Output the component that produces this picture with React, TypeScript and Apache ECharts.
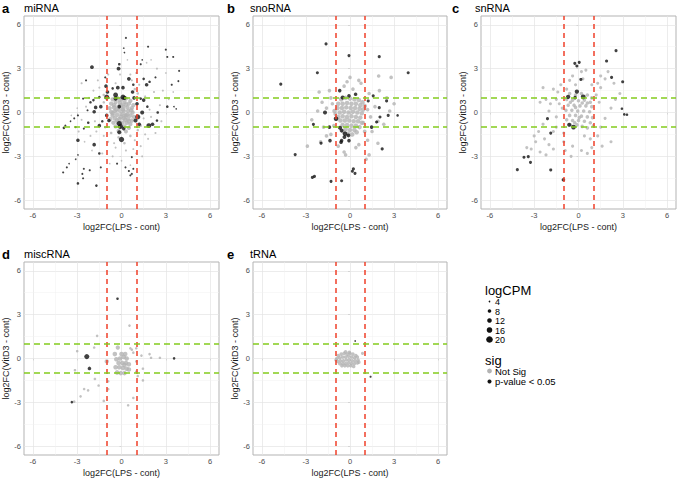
import React, { useEffect, useRef } from "react";
import * as echarts from "echarts";

type P = [number, number, number];

const FONT = "'Liberation Sans', Arial, Helvetica, sans-serif";

const panelLetters = ["a", "b", "c", "d", "e"];
const panelNames = ["miRNA", "snoRNA", "snRNA", "miscRNA", "tRNA"];
const tickValues = [-6, -3, 0, 3, 6];
const minorValues = [-4.5, -1.5, 1.5, 4.5];
const cutoffs = [-1, 1];
const legendSizes = [4, 8, 12, 16, 20];
const sigLabels = ["Not Sig", "p-value < 0.05"];
const xTitle = "log2FC(LPS - cont)";
const yTitle = "log2FC(VitD3 - cont)";

// ---------- panel a : miRNA ----------
const aSig: P[] = [
  [0.3, 5.1, 5], [1.8, 4.5, 5], [3.0, 4.3, 5], [3.5, 3.8, 5], [3.1, 3.8, 5], [0.15, 4.4, 4], [0.2, 4.1, 4],
  [-2.0, 3.1, 9], [-0.2, 3.0, 9], [-0.15, 3.3, 6], [1.3, 3.3, 5], [1.4, 3.6, 4], [3.9, 2.85, 5], [2.3, 2.4, 5],
  [1.5, 2.3, 6], [0.5, 2.3, 9], [-2.4, 2.2, 5], [-1.1, 2.4, 5], [1.9, 2.1, 6], [0.8, 1.9, 6], [1.7, 1.9, 8],
  [3.4, 1.9, 5], [3.85, 2.15, 5], [-1.05, 1.8, 8], [-0.25, 1.7, 9], [0.1, 1.7, 8], [0.75, 1.4, 8], [-0.95, 1.4, 8],
  [-0.6, 1.65, 6], [-1.0, 1.05, 14], [-0.4, 1.2, 13], [0.1, 1.05, 14], [0.2, 1.0, 10], [-0.4, 0.95, 10],
  [-1.9, 0.85, 6], [-1.5, 1.05, 6], [-2.6, 0.95, 5], [-2.1, 0.7, 6], [-1.4, 0.4, 8], [-1.75, 0.35, 8],
  [-2.3, 0.15, 5], [-1.85, 0.05, 8], [-2.95, -0.2, 5], [-3.2, -0.4, 5], [-3.45, -0.6, 4], [-3.8, -0.9, 5],
  [-3.9, -1.05, 6], [-3.1, -1.0, 5], [-2.55, -1.1, 5], [-2.25, -0.7, 6], [-1.5, -0.9, 8], [-1.0, -0.2, 8],
  [-0.85, -0.55, 8], [-1.3, -0.6, 6], [-0.15, 0.4, 8], [-0.15, -0.75, 14], [-0.07, -0.95, 14], [-0.15, -1.35, 10],
  [0.0, -1.85, 15], [0.15, -1.1, 8], [1.1, -0.3, 14], [0.95, -0.55, 10], [1.2, -0.8, 8], [1.85, -0.9, 13],
  [2.1, -0.8, 8], [1.4, 0.0, 10], [1.75, 0.4, 6], [1.5, 0.85, 8], [1.3, 0.95, 6], [0.85, 1.0, 8], [1.05, 0.6, 8],
  [2.45, 0.0, 6], [3.1, 0.4, 6], [3.55, 0.4, 4], [3.7, 0.25, 4], [2.4, -0.55, 6], [-2.95, -1.9, 8],
  [-1.85, -2.2, 8], [-1.5, -2.8, 6], [-2.95, -2.9, 4], [-3.1, -3.2, 4], [-3.55, -3.5, 4], [-3.7, -3.75, 5],
  [-3.95, -4.1, 5], [-2.55, -3.85, 5], [-2.65, -4.2, 5], [-2.6, -4.5, 5], [-2.95, -4.85, 6], [-2.15, -3.95, 5],
  [-1.7, -5.0, 6], [-1.4, -3.75, 5], [0.27, -3.75, 5], [0.5, -4.0, 5], [0.7, -4.2, 5], [0.8, -3.85, 5],
  [0.6, -4.3, 5], [-0.3, -3.5, 5], [0.7, -3.05, 5],
];
const aNot: P[] = [
  // scattered
  [-2.7, 2.0, 5], [-2.2, 1.0, 5], [-1.6, 2.2, 5], [-0.9, 2.6, 5], [0.6, 2.6, 5], [1.0, 2.7, 5], [2.4, 3.0, 5],
  [1.7, 3.4, 4], [2.2, 1.4, 5], [2.8, 1.5, 5], [3.2, 0.9, 4], [2.6, 0.5, 5], [1.9, 0.2, 5], [1.5, -0.4, 5],
  [2.3, -1.4, 5], [1.8, -1.8, 5], [1.3, -2.3, 5], [1.0, -2.8, 5], [1.4, -3.0, 5], [0.8, -2.5, 5], [0.3, -2.6, 5],
  [-0.4, -2.4, 5], [-0.6, -3.0, 5], [-0.9, -2.0, 5], [-1.2, -1.6, 5], [-1.7, -1.3, 5], [-2.1, -1.6, 5],
  [-2.5, -2.0, 4], [-2.7, -0.5, 5], [-2.4, 0.4, 5], [-3.0, 0.3, 4], [-1.8, -0.6, 5], [-1.5, 1.7, 5],
  [-1.2, 0.7, 6], [0.9, 1.6, 6], [1.2, 1.9, 5], [1.6, 1.1, 5], [2.0, -0.3, 5], [1.1, -1.2, 6], [0.6, -1.6, 6],
  [0.2, -2.1, 6], [-0.2, -1.7, 6], [-0.7, -1.4, 6], [-0.4, 2.0, 5], [0.4, 3.6, 4], [-0.1, 2.6, 5],
  [0.0, -3.3, 4], [-0.8, -3.5, 4], [0.6, -3.6, 4], [3.5, 1.4, 4], [3.0, 2.7, 4], [2.0, 3.6, 4], [-3.4, -0.2, 4],
  [-2.0, -2.6, 4], [-1.3, -2.8, 5], [1.6, -1.5, 5], [2.7, -0.6, 5], [0.7, 2.2, 5], [-2.9, -1.3, 5], [-1.9, 1.5, 5],
  [-1.2, 1.2, 6], [1.1, 1.3, 6], [-1.1, -1.0, 6], [1.3, -0.9, 6], [0.9, -1.9, 5], [-0.5, -2.1, 5],
  // central clump
  [-0.6, 0.9, 11], [-0.3, 1.0, 11], [0.0, 0.9, 11], [0.3, 0.95, 11], [0.6, 0.8, 11], [-0.7, 0.6, 11],
  [-0.4, 0.7, 11], [-0.1, 0.65, 12], [0.2, 0.7, 12], [0.5, 0.6, 11], [0.8, 0.5, 11], [-0.8, 0.3, 11],
  [-0.5, 0.35, 12], [-0.2, 0.4, 12], [0.1, 0.4, 12], [0.4, 0.35, 12], [0.7, 0.3, 11], [-0.7, 0.05, 11],
  [-0.45, 0.1, 12], [-0.15, 0.15, 12], [0.15, 0.1, 12], [0.45, 0.1, 12], [0.75, 0.0, 11], [-0.6, -0.2, 12],
  [-0.3, -0.15, 12], [0.0, -0.1, 12], [0.3, -0.2, 12], [0.6, -0.2, 12], [0.85, -0.3, 11], [-0.75, -0.45, 11],
  [-0.45, -0.4, 12], [-0.15, -0.45, 12], [0.15, -0.4, 12], [0.45, -0.45, 12], [0.7, -0.55, 11],
  [-0.55, -0.7, 11], [-0.25, -0.7, 12], [0.05, -0.7, 12], [0.35, -0.7, 12], [0.6, -0.8, 11], [-0.4, -0.95, 11],
  [-0.1, -1.0, 11], [0.2, -0.95, 11], [0.5, -1.05, 11], [-0.2, -1.25, 10], [0.3, -1.3, 10], [-0.35, 0.2, 12],
  [0.3, 0.55, 12], [-0.05, -0.3, 12], [0.5, -0.6, 12], [-0.6, -0.05, 12], [0.1, 0.2, 12], [0.25, -0.5, 12],
  [-0.3, -0.55, 12], [0.65, 0.15, 12], [-0.15, 0.85, 11], [0.4, -0.15, 12], [0.0, 0.5, 12], [-0.5, 0.5, 12],
  [0.2, -0.2, 12],
];

// ---------- panel b : snoRNA ----------
const bSig: P[] = [
  [-1.63, 4.69, 7], [-0.07, 3.89, 7], [1.99, 3.82, 7], [3.96, 2.72, 7], [-2.22, 2.72, 7], [-4.71, 1.94, 7],
  [-0.7, 1.5, 8], [0.38, 1.25, 8], [-0.07, 1.14, 8], [-0.5, 1.02, 10], [1.58, 1.14, 7], [1.24, 0.79, 7],
  [2.49, 0.79, 7], [-1.7, 0.0, 10], [-0.95, -0.42, 12], [1.99, 0.33, 7], [2.6, -0.2, 7], [2.04, -0.31, 7],
  [3.24, -0.2, 6], [1.81, -0.65, 7], [1.47, -1.0, 8], [-2.49, -0.81, 7], [-1.4, -1.0, 8], [-0.68, -1.04, 10],
  [-0.57, -1.23, 9], [-0.34, -1.46, 12], [-0.38, -1.68, 9], [-0.11, -1.57, 9], [-0.07, -1.92, 8],
  [-0.57, -1.92, 8], [-0.61, -2.03, 8], [-1.36, -1.92, 8], [-1.97, -2.1, 7], [2.19, -2.49, 7],
  [-3.73, -2.88, 7], [-2.56, -4.44, 7], [-2.42, -4.37, 7], [-1.29, -4.71, 7], [-0.57, -4.67, 7],
  [0.23, -3.86, 7], [0.16, -4.02, 7], [0.34, -4.16, 7],
];
const bNot: P[] = [
  [0.0, 2.4, 8], [0.75, 2.0, 8], [0.6, 2.2, 8], [1.95, 2.5, 8], [2.8, 2.4, 8], [-1.4, 1.5, 8], [-2.1, 1.4, 8],
  [-0.4, 1.8, 8], [0.2, 1.6, 8], [-1.9, 0.7, 8], [-1.6, 0.3, 8], [-2.2, 0.1, 8], [-2.6, -0.5, 8], [-1.2, 0.6, 8],
  [2.0, 1.5, 8], [2.5, 1.0, 8], [1.7, 0.4, 8], [1.2, 0.2, 8], [1.9, -0.6, 8], [2.3, -0.8, 8], [1.4, -0.3, 8],
  [1.5, -1.3, 8], [1.2, -1.9, 8], [1.9, -2.1, 8], [0.6, -2.2, 8], [1.3, -2.9, 8], [1.1, -3.2, 8],
  [-0.4, -2.7, 8], [-0.3, -2.9, 8], [-1.6, -1.6, 8], [-2.0, -2.0, 8], [-2.9, -2.3, 8], [-1.8, -1.0, 8],
  [-1.1, -0.9, 8], [-1.3, -1.5, 8], [0.4, -2.4, 8], [-0.8, -2.3, 8], [2.7, 0.1, 8], [3.0, 0.6, 8],
  [-0.2, 2.1, 8], [1.0, -1.3, 9], [0.9, -0.7, 9], [-1.3, 1.0, 8], [1.3, 1.3, 8], [-1.0, -0.1, 9],
  // central clump
  [-0.6, 0.9, 12], [-0.3, 1.0, 12], [0.0, 0.95, 12], [0.3, 0.9, 12], [0.6, 0.85, 12], [0.85, 0.7, 12],
  [-0.8, 0.6, 12], [-0.5, 0.6, 12], [-0.2, 0.65, 12], [0.1, 0.6, 12], [0.4, 0.6, 12], [0.7, 0.5, 12],
  [-0.85, 0.3, 12], [-0.55, 0.3, 12], [-0.25, 0.35, 12], [0.05, 0.3, 12], [0.35, 0.3, 12], [0.65, 0.25, 12],
  [0.9, 0.2, 12], [-0.7, 0.0, 12], [-0.4, 0.05, 12], [-0.1, 0.0, 12], [0.2, 0.05, 12], [0.5, 0.0, 12],
  [0.8, -0.05, 12], [-0.8, -0.3, 12], [-0.5, -0.25, 12], [-0.2, -0.3, 12], [0.1, -0.25, 12], [0.4, -0.3, 12],
  [0.7, -0.35, 12], [-0.65, -0.55, 12], [-0.35, -0.55, 12], [-0.05, -0.55, 12], [0.25, -0.6, 12],
  [0.55, -0.6, 12], [0.8, -0.7, 12], [-0.5, -0.85, 12], [-0.2, -0.85, 12], [0.1, -0.9, 12], [0.4, -0.9, 12],
  [0.65, -1.0, 12], [-0.3, -1.15, 12], [0.0, -1.2, 12], [0.3, -1.2, 12], [-0.15, -1.45, 12], [0.15, -1.5, 12],
  [0.45, -1.35, 12], [-0.45, -1.3, 12], [-1.05, 0.1, 12], [1.0, 0.45, 12],
];

// ---------- panel c : snRNA ----------
const cSig: P[] = [
  [2.54, 4.23, 7], [1.9, 3.52, 7], [-0.25, 3.36, 7], [0.05, 3.43, 7], [-0.11, 3.18, 7], [0.16, 2.26, 7],
  [2.24, 2.4, 7], [2.99, 2.1, 7], [-0.11, 1.43, 11], [-0.7, 1.07, 11], [-0.23, 1.02, 8], [0.32, 1.07, 13],
  [-2.1, -0.42, 7], [2.94, 0.26, 6], [3.1, -0.13, 6], [3.28, -0.15, 6], [-0.63, -0.84, 10], [-0.34, -1.0, 13],
  [-1.88, -1.41, 7], [-3.4, -3.02, 7], [-3.69, -3.06, 7], [-3.25, -3.41, 7], [-4.14, -3.91, 7],
  [-1.88, -3.93, 7], [-1.02, -4.6, 8],
];
const cNot: P[] = [
  [0.2, 2.8, 7], [0.5, 2.9, 7], [-0.4, 2.5, 7], [0.3, 2.3, 7], [1.5, 2.5, 7], [1.8, 2.3, 7], [2.0, 2.8, 7],
  [2.4, 2.0, 7], [1.3, 2.0, 7], [-0.6, 2.2, 7], [-1.2, 1.9, 7], [-1.7, 1.6, 7], [-2.4, 1.7, 7], [-1.4, 1.4, 7],
  [-2.2, 0.9, 7], [-2.6, 0.7, 7], [-1.9, 0.6, 7], [-1.5, 0.9, 7], [-2.0, 0.1, 7], [-1.5, -0.3, 7],
  [-2.4, -0.8, 7], [-2.7, -1.3, 7], [-1.5, -1.0, 7], [-1.7, -1.3, 7], [-2.3, -1.8, 7], [-2.9, -2.0, 7],
  [-3.2, -2.5, 7], [-2.6, -2.7, 7], [-2.2, -2.9, 7], [-1.7, -2.5, 7], [-1.0, -2.0, 7], [-0.9, -2.6, 7],
  [-0.4, -2.3, 7], [-0.5, -3.0, 7], [0.2, -2.6, 7], [0.6, -2.8, 7], [0.9, -2.4, 7], [0.8, -1.8, 7],
  [1.3, -1.6, 7], [1.6, -2.3, 7], [2.2, -2.0, 7], [1.5, -1.0, 7], [1.8, -0.4, 7], [2.2, 0.3, 7], [2.8, 1.3, 7],
  [2.5, 0.9, 7], [1.4, 0.7, 7], [1.2, 1.2, 7], [1.5, 1.7, 7], [-0.8, 1.6, 7], [-1.0, -1.4, 7], [-3.0, -1.6, 7],
  [-2.0, -2.2, 7], [0.4, -1.6, 7], [1.0, -0.9, 7], [-1.1, 0.3, 7], [-1.3, 0.6, 7], [0.9, 1.9, 7],
  [-0.2, 1.9, 7], [-3.5, -2.4, 7],
  // centre
  [-0.6, 1.3, 8], [-0.2, 1.2, 8], [0.2, 1.3, 8], [0.6, 1.2, 8], [0.9, 1.0, 8], [-0.8, 0.9, 8], [-0.4, 0.85, 8],
  [0.0, 0.8, 8], [0.4, 0.85, 8], [0.8, 0.7, 8], [-0.7, 0.5, 8], [-0.3, 0.5, 8], [0.1, 0.45, 8], [0.5, 0.45, 8],
  [0.9, 0.4, 8], [-0.85, 0.15, 8], [-0.45, 0.15, 8], [-0.05, 0.1, 8], [0.35, 0.1, 8], [0.75, 0.05, 8],
  [-0.6, -0.2, 8], [-0.2, -0.2, 8], [0.2, -0.25, 8], [0.6, -0.3, 8], [0.95, -0.35, 8], [-0.8, -0.5, 8],
  [-0.4, -0.55, 8], [0.0, -0.55, 8], [0.4, -0.6, 8], [0.8, -0.7, 8], [-0.55, -0.85, 8], [-0.1, -0.85, 8],
  [0.25, -0.95, 8], [0.6, -1.05, 8], [-0.2, 0.35, 8], [0.25, 0.65, 8], [0.6, 0.65, 8], [-0.55, 0.7, 8],
  [0.05, -0.35, 8], [-0.25, -0.7, 8],
];

// ---------- panel d : miscRNA ----------
const dSig: P[] = [
  [-0.27, 4.09, 6], [-2.35, 0.13, 14], [-2.17, -0.68, 8], [-3.36, -2.98, 6], [3.56, 0.01, 6],
];
const dNot: P[] = [
  [0.54, 2.25, 6], [-1.65, 1.55, 6], [-1.85, 0.75, 6], [-3.0, 0.5, 6], [-3.15, -0.8, 6], [-2.53, -2.09, 6],
  [-2.26, -2.18, 6], [-2.77, -2.59, 6], [-3.2, -2.95, 6], [-1.8, -1.4, 6], [-1.55, -1.85, 6], [-0.9, -1.56, 6],
  [-0.9, -2.1, 6], [-1.2, -2.9, 6], [0.8, 0.4, 6], [0.7, 0.6, 6], [1.0, 0.7, 6], [1.0, -0.2, 6], [1.0, -0.9, 6],
  [1.1, -1.2, 6], [1.45, -0.7, 6], [1.45, -1.5, 6], [1.35, 0.2, 6], [1.9, 0.3, 6], [2.0, 0.05, 6],
  [2.6, 0.05, 6], [0.8, -2.7, 6], [0.45, -3.2, 6], [0.6, 0.7, 6],
  // cluster
  [-0.25, 0.75, 11], [-0.35, -0.05, 12], [-0.1, 0.0, 12], [0.15, 0.1, 12], [0.35, 0.0, 12], [-0.2, -0.3, 12],
  [0.05, -0.3, 12], [0.3, -0.3, 12], [0.5, -0.4, 12], [-0.4, -0.6, 12], [-0.15, -0.6, 12], [0.1, -0.65, 12],
  [0.35, -0.7, 12], [0.5, -0.75, 12], [-0.3, -0.95, 12], [-0.05, -1.0, 12], [0.2, -1.0, 12], [-1.0, -0.2, 11],
  [-0.45, 0.3, 12], [0.0, 0.3, 12], [0.2, -0.45, 12], [0.25, 0.3, 12],
];

// ---------- panel e : tRNA ----------
const eSig: P[] = [
  [0.35, 1.2, 4], [1.4, -1.25, 5],
];
const eNot: P[] = [
  [-0.8, 0.2, 8], [-0.6, 0.3, 8], [-0.4, 0.35, 8], [-0.2, 0.3, 8], [0.0, 0.35, 8], [0.2, 0.3, 8], [0.4, 0.2, 8],
  [-0.9, 0.0, 8], [-0.7, 0.05, 8], [-0.5, 0.1, 8], [-0.3, 0.1, 8], [-0.1, 0.15, 8], [0.1, 0.1, 8], [0.3, 0.05, 8],
  [0.5, 0.1, 8], [-0.85, -0.2, 8], [-0.65, -0.15, 8], [-0.45, -0.15, 8], [-0.25, -0.1, 8], [-0.05, -0.1, 8],
  [0.15, -0.15, 8], [0.35, -0.15, 8], [0.55, -0.1, 8], [-0.7, -0.35, 8], [-0.5, -0.35, 8], [-0.3, -0.35, 8],
  [-0.1, -0.3, 8], [0.1, -0.35, 8], [0.3, -0.35, 8], [0.5, -0.3, 8], [-0.55, -0.5, 8], [-0.35, -0.5, 8],
  [-0.15, -0.5, 8], [0.05, -0.5, 8], [0.25, -0.55, 8], [-0.05, 0.42, 8], [-0.3, 0.45, 8], [0.85, 0.35, 7],
  [0.6, -0.25, 8], [-0.95, -0.1, 8],
];

const sigData: P[][] = [aSig, bSig, cSig, dSig, eSig];
const notData: P[][] = [aNot, bNot, cNot, dNot, eNot];

// ---------- styling ----------
const GREY = "#b3b3b3";
const BLACK = "#111111";
const RED = "#f0402a";
const GREEN = "#84cc1e";

const gridBoxes = [
  { left: 24, top: 16, width: 195, height: 193 },
  { left: 253, top: 16, width: 194, height: 193 },
  { left: 481, top: 16, width: 195, height: 193 },
  { left: 24, top: 262, width: 195, height: 193 },
  { left: 253, top: 262, width: 194, height: 193 },
];

const sizeStops: [number, number][] = [[4, 1.6], [8, 3.6], [12, 4.6], [16, 5.6], [20, 6.6]];
function sizeOf(v: number): number {
  if (v <= sizeStops[0][0]) return sizeStops[0][1];
  for (let i = 1; i < sizeStops.length; i++) {
    const [v1, s1] = sizeStops[i];
    const [v0, s0] = sizeStops[i - 1];
    if (v <= v1) return s0 + ((v - v0) / (v1 - v0)) * (s1 - s0);
  }
  return sizeStops[sizeStops.length - 1][1];
}

function buildOption() {
  const grid = gridBoxes.map((g) => ({
    ...g,
    show: true,
    borderColor: GREY,
    borderWidth: 1,
    backgroundColor: "transparent",
  }));

  const axisCommon = {
    type: "value",
    min: -6.6,
    max: 6.6,
    axisLine: { show: false },
    axisTick: { show: true, length: 2, customValues: tickValues, lineStyle: { color: GREY, width: 1 } },
    axisLabel: { customValues: tickValues, fontSize: 7.5, color: "#4d4d4d", fontFamily: FONT },
    splitLine: { show: false },
    nameLocation: "middle",
    nameTextStyle: { fontSize: 9, color: "#1a1a1a", fontFamily: FONT },
  };

  const xAxis = gridBoxes.map((_, i) => ({
    ...axisCommon,
    gridIndex: i,
    name: xTitle,
    nameGap: 13,
    axisLabel: { ...axisCommon.axisLabel, margin: 2 },
  }));
  const yAxis = gridBoxes.map((_, i) => ({
    ...axisCommon,
    gridIndex: i,
    name: yTitle,
    nameGap: 12,
    axisLabel: { ...axisCommon.axisLabel, margin: 3 },
  }));

  const series: any[] = [];
  gridBoxes.forEach((_, i) => {
    const gridLines: any[] = [];
    tickValues.forEach((v) => {
      gridLines.push({ xAxis: v, lineStyle: { color: "#e4e4e4", width: 0.7, type: "solid" } });
      gridLines.push({ yAxis: v, lineStyle: { color: "#e4e4e4", width: 0.7, type: "solid" } });
    });
    minorValues.forEach((v) => {
      gridLines.push({ xAxis: v, lineStyle: { color: "#f1f1f1", width: 0.5, type: "solid" } });
      gridLines.push({ yAxis: v, lineStyle: { color: "#f1f1f1", width: 0.5, type: "solid" } });
    });
    series.push({
      type: "scatter",
      xAxisIndex: i,
      yAxisIndex: i,
      data: [],
      silent: true,
      z: 1,
      markLine: {
        silent: true,
        symbol: ["none", "none"],
        label: { show: false },
        z: 1,
        animation: false,
        data: gridLines,
      },
    });
    series.push({
      type: "scatter",
      name: sigLabels[0],
      xAxisIndex: i,
      yAxisIndex: i,
      data: notData[i],
      symbol: "circle",
      symbolSize: (val: number[]) => sizeOf(val[2]),
      itemStyle: { color: GREY },
      z: 2,
      silent: true,
    });
    series.push({
      type: "scatter",
      name: sigLabels[1],
      xAxisIndex: i,
      yAxisIndex: i,
      data: sigData[i],
      symbol: "circle",
      symbolSize: (val: number[]) => sizeOf(val[2]),
      itemStyle: { color: BLACK },
      z: 3,
      silent: true,
    });
    const refLines: any[] = [];
    cutoffs.forEach((c) => {
      refLines.push({ xAxis: c, lineStyle: { color: RED, width: 1.5, type: [5, 4] } });
    });
    cutoffs.forEach((c) => {
      refLines.push({ yAxis: c, lineStyle: { color: GREEN, width: 1.5, type: [6, 4] } });
    });
    series.push({
      type: "scatter",
      xAxisIndex: i,
      yAxisIndex: i,
      data: [],
      silent: true,
      z: 5,
      markLine: {
        silent: true,
        symbol: ["none", "none"],
        label: { show: false },
        z: 6,
        animation: false,
        data: refLines,
      },
    });
  });

  const graphic: any[] = [];
  const letterX = [2, 227, 452, 2, 227];
  const nameX = [24, 250, 475, 24, 250];
  const rowYs = [8, 8, 8, 254, 254];
  gridBoxes.forEach((_, i) => {
    graphic.push({
      type: "text",
      x: letterX[i],
      y: rowYs[i],
      style: {
        text: panelLetters[i],
        fontSize: 13,
        fontWeight: "bold",
        fontFamily: FONT,
        fill: "#000",
        textVerticalAlign: "middle",
      },
    });
    graphic.push({
      type: "text",
      x: nameX[i],
      y: rowYs[i],
      style: {
        text: panelNames[i],
        fontSize: 11,
        fontFamily: FONT,
        fill: "#000",
        textVerticalAlign: "middle",
      },
    });
  });

  // legend
  graphic.push({
    type: "text",
    x: 485,
    y: 290.5,
    style: { text: "logCPM", fontSize: 13, lineHeight: 11, fontFamily: FONT, fill: "#000", textVerticalAlign: "middle" },
  });
  const legY = [301.5, 311, 320.5, 330, 339.5];
  legendSizes.forEach((v, k) => {
    graphic.push({
      type: "circle",
      shape: { cx: 489.5, cy: legY[k], r: sizeOf(v) / 2 },
      style: { fill: BLACK },
    });
    graphic.push({
      type: "text",
      x: 495,
      y: legY[k] + 0.5,
      style: {
        text: String(v),
        fontSize: 9,
        lineHeight: 9,
        fontFamily: FONT,
        fill: "#000",
        textVerticalAlign: "middle",
      },
    });
  });
  graphic.push({
    type: "text",
    x: 485,
    y: 360,
    style: { text: "sig", fontSize: 13, lineHeight: 11, fontFamily: FONT, fill: "#000", textVerticalAlign: "middle" },
  });
  const sigY = [371, 381.5];
  const sigColors = [GREY, BLACK];
  const sigR = [2.4, 2.0];
  sigLabels.forEach((lab, k) => {
    graphic.push({
      type: "circle",
      shape: { cx: 489.5, cy: sigY[k], r: sigR[k] },
      style: { fill: sigColors[k] },
    });
    graphic.push({
      type: "text",
      x: 495,
      y: sigY[k],
      style: {
        text: lab,
        fontSize: 9.5,
        lineHeight: 9.5,
        fontFamily: FONT,
        fill: "#000",
        textVerticalAlign: "middle",
      },
    });
  });

  return {
    animation: false,
    backgroundColor: "#ffffff",
    textStyle: { fontFamily: FONT },
    grid,
    xAxis,
    yAxis,
    series,
    graphic,
  };
}

export default function App() {
  const ref = useRef<HTMLDivElement>(null);
  useEffect(() => {
    document.body.style.margin = "0";
    if (!ref.current) return;
    const chart = echarts.init(ref.current, undefined, { renderer: "svg" });
    chart.setOption(buildOption() as any);
    return () => chart.dispose();
  }, []);
  return <div ref={ref} style={{ width: 677, height: 479 }} />;
}
